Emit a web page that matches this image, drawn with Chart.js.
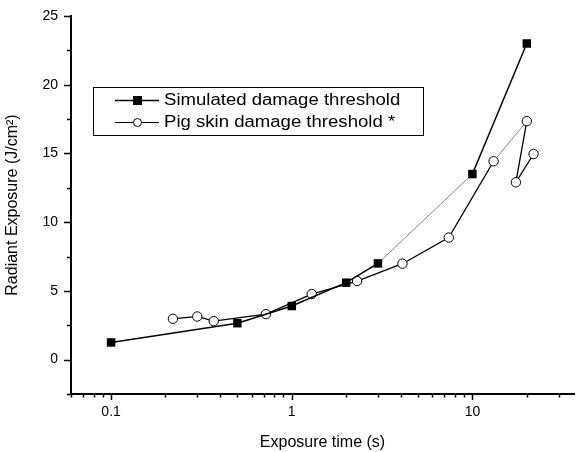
<!DOCTYPE html>
<html>
<head>
<meta charset="utf-8">
<script src="https://cdn.jsdelivr.net/npm/chart.js@4.4.0/dist/chart.umd.min.js"></script>
<style>
    html, body { margin: 0; padding: 0; background: #fff; }
    #wrap { width: 580px; height: 452px; position: relative; }
</style>
</head>
<body>
<div id="wrap"><canvas id="chart"></canvas></div>
<script>
// Values
const simTime = [0.1, 0.5, 1, 2, 3, 10, 20];
const simExposure = [1.25, 2.65, 3.9, 5.6, 7.0, 13.5, 23.0];
const pigTime = [0.22, 0.3, 0.37, 0.72, 1.29, 2.3, 4.1, 7.4, 13.1, 20, 17.4, 21.8];
const pigExposure = [2.97, 3.14, 2.8, 3.31, 4.77, 5.72, 6.98, 8.88, 14.43, 17.35, 12.9, 14.96];
const xTickLabels = [0.1, 1, 10];
const yTickLabels = [0, 5, 10, 15, 20, 25];
const seriesNames = ['Simulated damage threshold', 'Pig skin damage threshold *'];

const X_MIN = 0.06, X_MAX = 36.5;
const FONT = '"Liberation Sans", Arial, Helvetica, sans-serif';

const toPoints = (xs, ys) => xs.map((x, i) => ({ x: x, y: ys[i] }));

// 2..9 minor ticks for every decade on the log axis
function logTicks(min, max) {
    const out = [];
    for (let e = -2; e <= 2; e++) {
        for (let m = 1; m <= 9; m++) {
            const v = m * Math.pow(10, e);
            if (v >= min - 1e-9 && v <= max + 1e-9) out.push(v);
        }
    }
    return out;
}
const isLabelled = (v, list) => list.some(t => Math.abs(t - v) < 1e-9);

// Tick marks drawn by hand so major and minor ticks get different lengths
const tickMarks = {
    id: 'tickMarks',
    afterDraw(chart) {
        const ctx = chart.ctx;
        const xs = chart.scales.x, ys = chart.scales.y;
        ctx.save();
        ctx.strokeStyle = '#000';
        ctx.lineWidth = 1.5;
        xs.ticks.forEach(t => {
            const px = Math.round(xs.getPixelForValue(t.value)) + 0.5;
            const len = isLabelled(t.value, xTickLabels) ? 6 : 3.5;
            ctx.beginPath();
            ctx.moveTo(px, xs.top);
            ctx.lineTo(px, xs.top + len);
            ctx.stroke();
        });
        ys.ticks.forEach(t => {
            const py = Math.round(ys.getPixelForValue(t.value)) + 0.5;
            const len = isLabelled(t.value, yTickLabels) ? 7 : 4;
            ctx.beginPath();
            ctx.moveTo(ys.right, py);
            ctx.lineTo(ys.right - len, py);
            ctx.stroke();
        });
        ctx.restore();
    }
};

// Boxed legend sitting inside the plot area
const boxLegend = {
    id: 'boxLegend',
    afterDraw(chart) {
        const ctx = chart.ctx;
        const box = { left: 93, top: 87, right: 423, bottom: 135 };
        const rows = [100, 122];
        ctx.save();
        ctx.strokeStyle = '#000';
        ctx.lineWidth = 1;
        ctx.strokeRect(box.left + 0.5, box.top + 0.5, box.right - box.left, box.bottom - box.top);
        chart.data.datasets.forEach((ds, i) => {
            const y = rows[i] + 0.5;
            ctx.strokeStyle = '#000';
            ctx.lineWidth = i === 0 ? 1.5 : 1;
            ctx.beginPath();
            ctx.moveTo(115, y);
            ctx.lineTo(159, y);
            ctx.stroke();
            ctx.fillStyle = ds.pointBackgroundColor;
            ctx.lineWidth = 1;
            if (ds.pointStyle === 'rect') {
                ctx.fillRect(133, rows[i] - 4, 9, 9);
            } else {
                ctx.beginPath();
                ctx.arc(137.5, y, 4, 0, Math.PI * 2);
                ctx.fill();
                ctx.stroke();
            }
            ctx.fillStyle = '#000';
            ctx.font = '16px ' + FONT;
            ctx.textBaseline = 'middle';
            ctx.save();
            ctx.translate(164, rows[i] + 1);
            ctx.scale(1.16, 1);
            ctx.fillText(ds.label, 0, 0);
            ctx.restore();
        });
        ctx.restore();
    }
};

const thinSim = 4;  // 3 s -> 10 s segment is drawn as a hairline
const thinPig = 8;  // 13 s -> 20 s segment is drawn as a hairline

new Chart(document.getElementById('chart'), {
    type: 'scatter',
    data: {
        datasets: [
            {
                label: seriesNames[0],
                data: toPoints(simTime, simExposure),
                showLine: true,
                borderColor: '#000',
                borderWidth: 1.5,
                pointStyle: 'rect',
                pointRadius: 6,
                pointBackgroundColor: '#000',
                pointBorderColor: '#000',
                pointBorderWidth: 0,
                segment: {
                    borderWidth: c => c.p0DataIndex === thinSim ? 0.7 : 1.5,
                    borderColor: c => c.p0DataIndex === thinSim ? '#555' : '#000'
                }
            },
            {
                label: seriesNames[1],
                data: toPoints(pigTime, pigExposure),
                showLine: true,
                borderColor: '#000',
                borderWidth: 1.3,
                pointStyle: 'circle',
                pointRadius: 4.7,
                pointBackgroundColor: '#fff',
                pointBorderColor: '#000',
                pointBorderWidth: 1,
                segment: {
                    borderWidth: c => c.p0DataIndex === thinPig ? 0.7 : 1.3,
                    borderColor: c => c.p0DataIndex === thinPig ? '#555' : '#000'
                }
            }
        ]
    },
    options: {
        responsive: true,
        maintainAspectRatio: false,
        animation: false,
        layout: { padding: { top: 16, right: 0, left: 0, bottom: 0 } },
        plugins: {
            legend: { display: false },
            tooltip: { enabled: false }
        },
        scales: {
            x: {
                type: 'logarithmic',
                min: X_MIN,
                max: X_MAX,
                afterBuildTicks: (s) => { s.ticks = logTicks(X_MIN, X_MAX).map(v => ({ value: v })); },
                afterFit: (s) => { s.height = 58; },
                grid: { display: false, drawTicks: true, tickLength: 6 },
                border: { display: true, color: '#000', width: 2 },
                ticks: {
                    autoSkip: false,
                    maxRotation: 0,
                    padding: 4,
                    color: '#000',
                    font: { family: FONT, size: 14 },
                    callback: (v) => isLabelled(v, xTickLabels) ? String(v) : ''
                },
                title: {
                    display: true,
                    text: 'Exposure time (s)',
                    color: '#000',
                    font: { family: FONT, size: 16 },
                    padding: { top: 0, bottom: 0 }
                }
            },
            y: {
                type: 'linear',
                min: -2.5,
                max: 25,
                afterFit: (s) => { s.width = 71; },
                grid: { display: false, drawTicks: true, tickLength: 7 },
                border: { display: true, color: '#000', width: 2 },
                ticks: {
                    stepSize: 2.5,
                    autoSkip: false,
                    padding: 6,
                    color: '#000',
                    font: { family: FONT, size: 14 },
                    callback: (v) => isLabelled(v, yTickLabels) ? String(v) : ''
                },
                title: {
                    display: true,
                    text: 'Radiant Exposure (J/cm²)',
                    color: '#000',
                    font: { family: FONT, size: 16 },
                    padding: { top: 3, bottom: 0 }
                }
            }
        }
    },
    plugins: [tickMarks, boxLegend]
});
</script>
</body>
</html>
